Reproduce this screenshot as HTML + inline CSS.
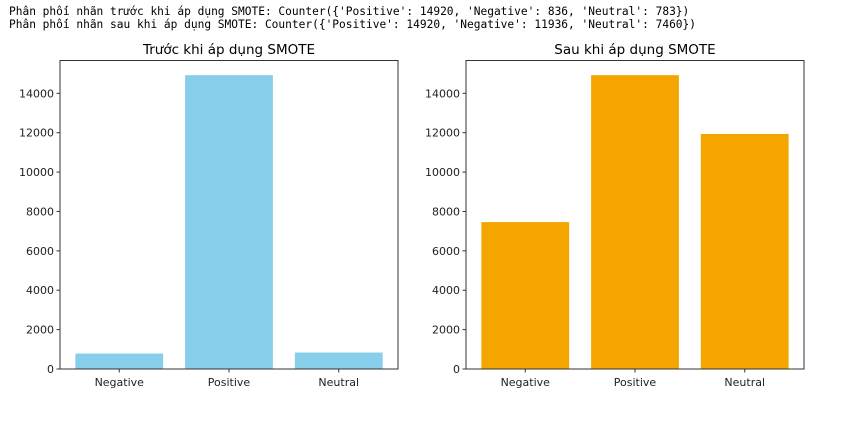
<!DOCTYPE html>
<html><head><meta charset="utf-8"><style>
body{margin:0;background:#fff;width:852px;height:423px;overflow:hidden}
pre{position:absolute;left:9px;top:5px;margin:0;font:11.2px/13px "DejaVu Sans Mono","Liberation Mono",monospace;color:#000}
</style></head><body>
<pre>Phân phối nhãn trước khi áp dụng SMOTE: Counter({'Positive': 14920, 'Negative': 836, 'Neutral': 783})
Phân phối nhãn sau khi áp dụng SMOTE: Counter({'Positive': 14920, 'Negative': 11936, 'Neutral': 7460})</pre>
<svg id="c" width="852" height="423" style="position:absolute;left:0;top:0"></svg>
<script>
const categories=["Negative","Positive","Neutral"];
const beforeValues=[783,14920,836];
const afterValues=[7460,14920,11936];
const yTicks=[0,2000,4000,6000,8000,10000,12000,14000];
const titles=["Trước khi áp dụng SMOTE","Sau khi áp dụng SMOTE"];
const svgEl=document.getElementById('c');
const NS="http://www.w3.org/2000/svg";
function mk(t,a,p){const e=document.createElementNS(NS,t);for(const k in a)e.setAttribute(k,a[k]);(p||svgEl).appendChild(e);return e;}
const plotTop=60.5,plotBot=369,ymax=15666;
function panel(x0,x1,vals,color,title,idx){
  const g=mk('g',{});
  
  
  const y=v=>plotBot-(v/ymax)*(plotBot-plotTop);
  const step=(x1-x0)/3.08;
  const xc=i=>x0+(i+0.54)*step;
  vals.forEach((v,i)=>{
    const r=mk('rect',{x:xc(i)-0.4*step,y:y(v),width:0.8*step,height:plotBot-y(v),fill:color},g);
    
    
  });
  const fr=mk('rect',{x:x0,y:plotTop,width:x1-x0,height:plotBot-plotTop,fill:'none',stroke:'#333','stroke-width':1},g);
  
  
  yTicks.forEach(t=>{
    mk('line',{x1:x0-3.5,x2:x0,y1:y(t),y2:y(t),stroke:'#333'},g);
    const tx=mk('text',{x:x0-6,y:y(t)+4,'text-anchor':'end','font-size':'11','font-family':'DejaVu Sans, Liberation Sans, sans-serif',fill:'#222'},g);
    tx.textContent=t;
    
    
  });
  categories.forEach((c,i)=>{
    mk('line',{x1:xc(i),x2:xc(i),y1:plotBot,y2:plotBot+3.5,stroke:'#333'},g);
    const tx=mk('text',{x:xc(i),y:plotBot+17,'text-anchor':'middle','font-size':'11','font-family':'DejaVu Sans, Liberation Sans, sans-serif',fill:'#222'},g);
    tx.textContent=c;
    
    
  });
  const tt=mk('text',{x:(x0+x1)/2,y:54,'text-anchor':'middle','font-size':'13.5','font-family':'DejaVu Sans, Liberation Sans, sans-serif',fill:'#000'},g);
  tt.textContent=title;
  
  
}
panel(60,398,beforeValues,'#87ceeb',titles[0],0);
panel(466,804,afterValues,'#f5a500',titles[1],1);
</script>
</body></html>
